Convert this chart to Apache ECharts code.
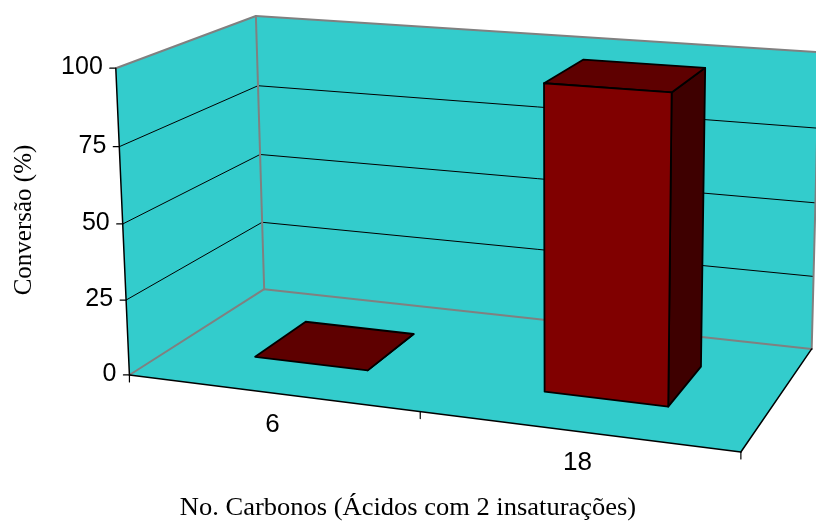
<!DOCTYPE html>
<html>
<head>
<meta charset="utf-8">
<script src="https://cdn.jsdelivr.net/npm/echarts@6/dist/echarts.min.js"></script>
<style>
  html, body { margin: 0; padding: 0; background: #ffffff; }
  #chart { width: 816px; height: 522px; }
</style>
</head>
<body>
<div id="chart"></div>
<script>
// ---- data ----
const categories = ['6', '18'];
const conversion = [0, 98.5];
const valueTicks = [0, 25, 50, 75, 100];
const xTitle = 'No. Carbonos (Ácidos com 2 insaturações)';
const yTitle = 'Conversão (%)';

// ---- perspective camera for the 3D plot box ----
// Each entry: box position (u across categories, v up the value axis, w into depth, all 0..1)
// and the screen point it should land on. A 3x4 projection is fitted to these.
const cameraFrame = [
  [0, 0, 0, 129.5, 375], [1, 0, 0, 741, 452], [0, 0, 1, 264, 288.3], [1, 0, 1, 812, 348],
  [0, 1, 0, 115.7, 68.3], [0, 1, 1, 257, 15], [1, 1, 1, 819, 52],
  [0, 0.25, 0, 126.7, 300], [0, 0.5, 0, 122.3, 223.3], [0, 0.75, 0, 119, 147.3],
  [0, 0.25, 1, 261.7, 222.7], [0, 0.5, 1, 260, 156], [0, 0.75, 1, 257.7, 85.7],
  [1, 0.25, 1, 813.7, 277.7], [1, 0.5, 1, 815.4, 203], [1, 0.75, 1, 817, 128]
];

function fitCamera(pts) {
  const N = 11, S = 1000;
  const M = Array.from({ length: N }, () => new Array(N + 1).fill(0));
  const addRow = (r, b) => {
    for (let i = 0; i < N; i++) {
      for (let j = 0; j < N; j++) M[i][j] += r[i] * r[j];
      M[i][N] += r[i] * b;
    }
  };
  pts.forEach(([u, v, w, X, Y]) => {
    const x = X / S, y = Y / S;
    addRow([u, v, w, 1, 0, 0, 0, 0, -x * u, -x * v, -x * w], x);
    addRow([0, 0, 0, 0, u, v, w, 1, -y * u, -y * v, -y * w], y);
  });
  for (let c = 0; c < N; c++) {
    let p = c;
    for (let r = c + 1; r < N; r++) if (Math.abs(M[r][c]) > Math.abs(M[p][c])) p = r;
    [M[c], M[p]] = [M[p], M[c]];
    for (let r = 0; r < N; r++) {
      if (r === c) continue;
      const f = M[r][c] / M[c][c];
      for (let k = c; k <= N; k++) M[r][k] -= f * M[c][k];
    }
  }
  const P = M.map((row, i) => row[N] / row[i]);
  return (u, v, w) => {
    const d = P[8] * u + P[9] * v + P[10] * w + 1;
    return [
      (P[0] * u + P[1] * v + P[2] * w + P[3]) / d * S,
      (P[4] * u + P[5] * v + P[6] * w + P[7]) / d * S
    ];
  };
}
const project = fitCamera(cameraFrame);

// ---- styling ----
const WALL = '#33CCCC';
const EDGE_GRAY = '#808080';
const INK = '#000000';
const BAR_FRONT = '#800000';
const BAR_TOP = '#5E0000';
const BAR_SIDE = '#3E0000';
const GAP_WIDTH = 1.5;   // gap between columns, as a share of column width
const GAP_DEPTH = 1.5;   // gap in depth, as a share of column depth
const labelFont = '"Liberation Sans", Arial, sans-serif';
const titleFont = '"Liberation Serif", "Times New Roman", serif';

// normalised box coordinates from the cartesian scales
function toBox(params, pt) {
  const cs = params.coordSys;
  return [(pt[0] - cs.x) / cs.width, (cs.y + cs.height - pt[1]) / cs.height];
}

const line = (a, b, stroke, lineWidth) => ({
  type: 'line', shape: { x1: a[0], y1: a[1], x2: b[0], y2: b[1] },
  style: { stroke, lineWidth, lineCap: 'round' }, silent: true
});
const polygon = (pts, fill, stroke) => ({
  type: 'polygon', shape: { points: pts },
  style: { fill, stroke: stroke || null, lineWidth: stroke ? 1.8 : 0, lineJoin: 'round' }, silent: true
});

// floor and walls
function renderWalls(params, api) {
  const q = project;
  return {
    type: 'group',
    children: [
      polygon([q(0, 0, 0), q(1, 0, 0), q(1, 0, 1), q(0, 0, 1)], WALL),
      polygon([q(0, 0, 0), q(0, 0, 1), q(0, 1, 1), q(0, 1, 0)], WALL),
      polygon([q(0, 0, 1), q(1, 0, 1), q(1, 1, 1), q(0, 1, 1)], WALL)
    ]
  };
}

// value gridlines, ticks and labels
function renderValueTicks(params, api) {
  const val = api.value(0);
  const v = toBox(params, api.coord([0, val]))[1];
  const a = project(0, v, 0), b = project(0, v, 1), c = project(1, v, 1);
  const children = [];
  if (val > valueTicks[0] && val < valueTicks[valueTicks.length - 1]) {
    children.push(line(a, b, INK, 1), line(b, c, INK, 1));
  }
  children.push(line([a[0] - 6, a[1]], a, INK, 1.2));
  children.push({
    type: 'text', silent: true,
    style: {
      text: String(val), x: a[0] - 13, y: a[1] - 1, align: 'right', verticalAlign: 'middle',
      fontFamily: labelFont, fontSize: 25, fill: INK
    }
  });
  return { type: 'group', children };
}

// box edges drawn over the gridlines
function renderEdges(params, api) {
  const q = project;
  return {
    type: 'group',
    children: [
      line(q(0, 1, 0), q(0, 1, 1), EDGE_GRAY, 2),
      line(q(0, 1, 1), q(1, 1, 1), EDGE_GRAY, 2),
      line(q(0, 0, 1), q(0, 1, 1), EDGE_GRAY, 2),
      line(q(0, 0, 0), q(0, 0, 1), EDGE_GRAY, 2),
      line(q(0, 0, 1), q(1, 0, 1), EDGE_GRAY, 2),
      line(q(1, 0, 1), q(1, 1, 1), EDGE_GRAY, 2),
      line(q(0, 0, 0), q(0, 1, 0), INK, 1.5),
      line(q(0, 0, 0), q(1, 0, 0), INK, 1.5),
      line(q(1, 0, 0), q(1, 0, 1), INK, 1.5)
    ]
  };
}

// category labels and boundary ticks along the front edge of the floor
function renderCategories(params, api) {
  const idx = api.value(0);
  const cs = params.coordSys;
  const uc = toBox(params, api.coord([idx, 0]))[0];
  const band = api.size([1, 0])[0] / cs.width;
  const children = [];
  const tickAt = (u) => {
    const p = project(u, 0, 0);
    children.push(line(p, [p[0], p[1] + 7], INK, 1.2));
  };
  tickAt(uc - band / 2);
  if (idx === categories.length - 1) tickAt(uc + band / 2);
  const p = project(uc, 0, 0);
  children.push({
    type: 'text', silent: true,
    style: {
      text: categories[idx], x: p[0] + 1, y: p[1] + 32, align: 'center', verticalAlign: 'middle',
      fontFamily: labelFont, fontSize: 26, fill: INK
    }
  });
  return { type: 'group', children };
}

// 3D columns
function renderColumns(params, api) {
  const idx = api.value(0);
  const val = api.value(1);
  const cs = params.coordSys;
  const uc = toBox(params, api.coord([idx, 0]))[0];
  const band = api.size([1, 0])[0] / cs.width;
  const half = band / (1 + GAP_WIDTH) / 2;
  const v0 = toBox(params, api.coord([idx, 0]))[1];
  const v1 = toBox(params, api.coord([idx, val]))[1];
  const d = 1 / (1 + GAP_DEPTH);
  const w0 = 0.5 - d / 2, w1 = 0.5 + d / 2;
  const uL = uc - half, uR = uc + half;
  const q = project;
  return {
    type: 'group',
    children: [
      polygon([q(uR, v0, w0), q(uR, v0, w1), q(uR, v1, w1), q(uR, v1, w0)], BAR_SIDE, INK),
      polygon([q(uL, v1, w0), q(uR, v1, w0), q(uR, v1, w1), q(uL, v1, w1)], BAR_TOP, INK),
      val > 0 ? polygon([q(uL, v0, w0), q(uR, v0, w0), q(uR, v1, w0), q(uL, v1, w0)], BAR_FRONT, INK) : null
    ].filter(Boolean)
  };
}

const chart = echarts.init(document.getElementById('chart'), null, { renderer: 'canvas' });
chart.setOption({
  animation: false,
  backgroundColor: '#ffffff',
  grid: { left: 100, top: 50, width: 600, height: 350, show: false },
  xAxis: { type: 'category', data: categories, boundaryGap: true, show: false },
  yAxis: { type: 'value', min: 0, max: 100, interval: 25, show: false },
  graphic: [
    {
      type: 'text', x: 24, y: 220, rotation: Math.PI / 2, silent: true,
      style: { text: yTitle, align: 'center', verticalAlign: 'middle', fontFamily: titleFont, fontSize: 25, fill: INK }
    },
    {
      type: 'text', x: 408, y: 508, scaleX: 1.06, silent: true,
      style: { text: xTitle, align: 'center', verticalAlign: 'middle', fontFamily: titleFont, fontSize: 25, fill: INK }
    }
  ],
  series: [
    { type: 'custom', name: 'walls', z: 1, data: [[0]], renderItem: renderWalls, silent: true },
    { type: 'custom', name: 'valueAxis', z: 2, data: valueTicks.map(t => [t]), renderItem: renderValueTicks, silent: true },
    { type: 'custom', name: 'edges', z: 3, data: [[0]], renderItem: renderEdges, silent: true },
    { type: 'custom', name: 'categoryAxis', z: 3, data: categories.map((c, i) => [i]), renderItem: renderCategories, silent: true },
    {
      type: 'custom', name: 'Conversão', z: 4,
      data: conversion.map((v, i) => [i, v]),
      encode: { x: 0, y: 1 },
      renderItem: renderColumns
    }
  ]
});
</script>
</body>
</html>
